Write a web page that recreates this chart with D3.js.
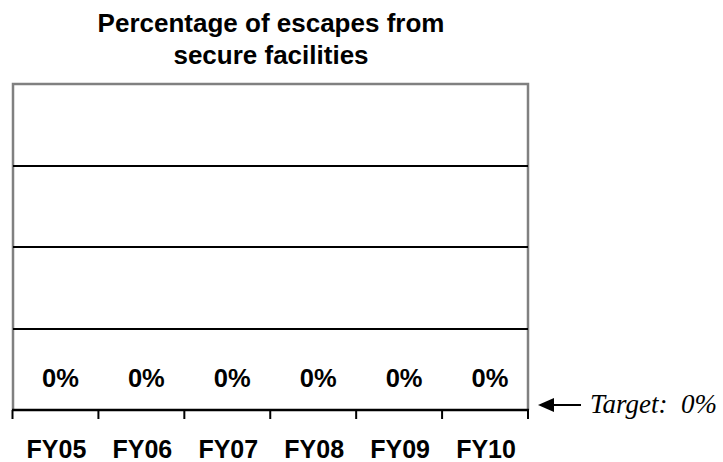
<!DOCTYPE html>
<html><head><meta charset="utf-8">
<script src="https://cdn.jsdelivr.net/npm/d3@7"></script>
<style>body{margin:0;background:#fff;} svg{display:block;}</style>
</head><body>
<svg id="c" width="723" height="462"></svg>
<script>
const categories = ["FY05","FY06","FY07","FY08","FY09","FY10"];
const values = [0,0,0,0,0,0];
const valueLabels = ["0%","0%","0%","0%","0%","0%"];
const gridValues = [1,2,3];
const yMax = 4;
const titleLines = ["Percentage of escapes from","secure facilities"];
const targetText = "Target:  0%";

const svg = d3.select("#c");
const m = {l:13, r:528, t:84, b:410};
const x = d3.scaleBand().domain(categories).range([m.l, m.r]).paddingInner(0.4).paddingOuter(0.2);
const y = d3.scaleLinear().domain([0, yMax]).range([m.b, m.t]);
const xb = d3.scaleBand().domain(categories).range([m.l-0.5, m.r]);
const sans = "Liberation Sans, Arial, sans-serif";

svg.selectAll(".title").data(titleLines).enter().append("text")
  .attr("x", 271).attr("y", (d,i)=>32 + i*32)
  .attr("text-anchor","middle")
  .attr("font-family",sans)
  .attr("font-weight","bold").attr("font-size","26px")
  .text(d=>d);

// frame (gray) top, left, right
svg.append("path")
  .attr("d", `M${m.l},${m.b}V${y(yMax)}H${m.r}V${m.b}`)
  .attr("fill","none").attr("stroke","#808080").attr("stroke-width",2.5);

// gridlines
svg.selectAll(".grid").data(gridValues).enter().append("line")
  .attr("x1", m.l).attr("x2", m.r)
  .attr("y1", d=>Math.round(y(d))).attr("y2", d=>Math.round(y(d)))
  .attr("stroke","#000").attr("stroke-width",2);

// bars (zero height)
svg.selectAll(".bar").data(values).enter().append("rect")
  .attr("x",(d,i)=>x(categories[i])).attr("width",x.bandwidth())
  .attr("y",d=>y(d)).attr("height",d=>y(0)-y(d)).attr("fill","#000");

// value labels
svg.selectAll(".vl").data(values).enter().append("text")
  .attr("x",(d,i)=>xb(categories[i])+xb.bandwidth()/2+5)
  .attr("y",d=>y(d)-23)
  .attr("text-anchor","middle")
  .attr("font-family",sans)
  .attr("font-weight","bold").attr("font-size","25.5px")
  .text((d,i)=>valueLabels[i]);

// x axis
const axisG = svg.append("g").attr("transform",`translate(0,${m.b})`);
axisG.append("line").attr("x1",m.l-1).attr("x2",m.r+1).attr("stroke","#000").attr("stroke-width",2.5);
const edges = categories.map(c=>xb(c)).concat([m.r]);
axisG.selectAll(".tk").data(edges).enter().append("line")
  .attr("x1",d=>d).attr("x2",d=>d).attr("y1",0).attr("y2",9)
  .attr("stroke","#000").attr("stroke-width",2);
axisG.selectAll(".cl").data(categories).enter().append("text")
  .attr("x",d=>xb(d)+xb.bandwidth()/2+1).attr("y",48)
  .attr("text-anchor","middle")
  .attr("font-family",sans)
  .attr("font-weight","bold").attr("font-size","25px")
  .text(d=>d);

// target arrow
svg.append("line").attr("x1",548).attr("x2",581).attr("y1",405).attr("y2",405)
  .attr("stroke","#000").attr("stroke-width",2.2);
svg.append("path").attr("d","M538,405L554,398L554,412Z").attr("fill","#000");
svg.append("text").attr("x",590).attr("y",413)
  .attr("font-family","Liberation Serif, Times New Roman, serif")
  .attr("font-style","italic").attr("font-size","27px")
  .attr("xml:space","preserve").style("white-space","pre")
  .text(targetText);
</script>
</body></html>
